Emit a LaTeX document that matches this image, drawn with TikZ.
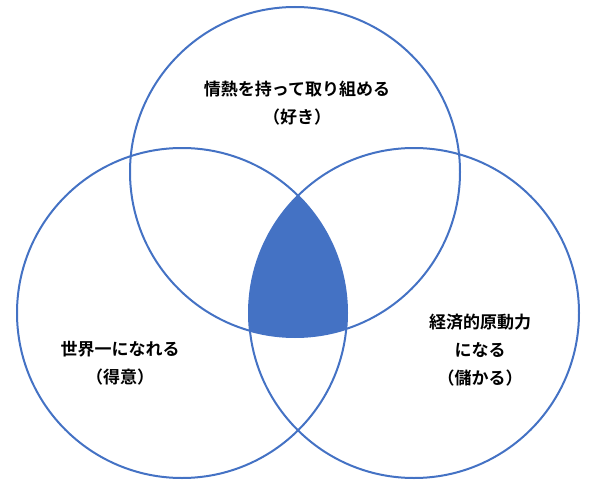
\documentclass[tikz,border=0pt]{standalone}
\usepackage{fontspec}
\newfontfamily\cjk{Noto Sans CJK JP}[BoldFont={Noto Sans CJK JP Bold}]
\definecolor{blu}{HTML}{4472C4}
\begin{document}
\begin{tikzpicture}[x=1pt,y=-1pt,
  circ/.style={draw=blu,line width=2pt},
  lab/.style={font=\cjk\bfseries\fontsize{17}{28}\selectfont,align=center,text=black}]
\useasboundingbox (0,0) rectangle (600,495);
\coordinate (t) at (295,172);
\coordinate (l) at (182,313);
\coordinate (r) at (414,313);
\begin{scope}
  \clip (t) circle (165);
  \clip (l) circle (165);
  \fill[blu] (r) circle (165);
\end{scope}
\draw[circ] (t) circle (165);
\draw[circ] (l) circle (165);
\draw[circ] (r) circle (165);
\node[lab] (a) at (297,103) {情熱を持って取り組める\\（好き）};
\node[lab] (b) at (120,363) {世界一になれる\\（得意）};
\node[lab] (c) at (480,350) {経済的原動力\\になる\\（儲かる）};
\end{tikzpicture}
\end{document}
